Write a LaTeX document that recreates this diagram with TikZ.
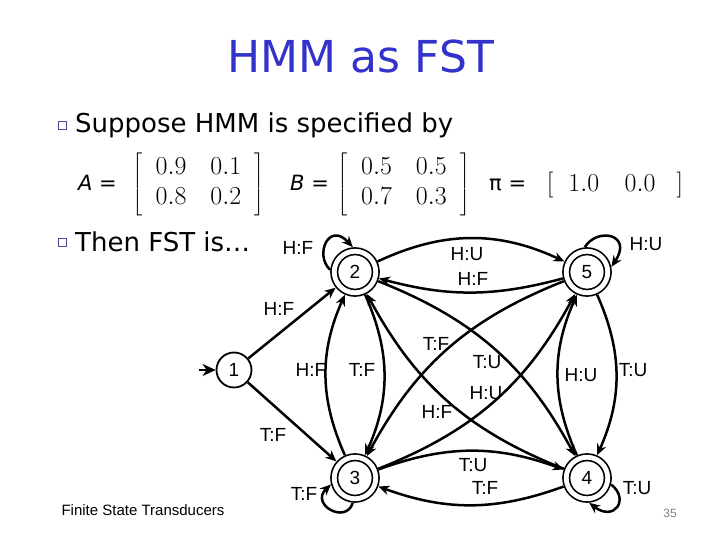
\documentclass[tikz,border=0pt]{standalone}
\usepackage[no-math]{fontspec}
\usepackage{graphicx}
\setmainfont{DejaVu Sans}
\newfontfamily\arialf{Liberation Sans}
\usetikzlibrary{arrows.meta,shadows}
\definecolor{titleblue}{HTML}{3333CC}
\definecolor{bulblue}{HTML}{4A4A9A}
\begin{document}
\begin{tikzpicture}[x=1pt,y=1pt,
  lbl/.style={font=\arialf\fontsize{19}{22}\selectfont, inner sep=0pt},
  st/.style={circle, draw, line width=1.8pt, minimum size=35pt, inner sep=0pt, fill=white, font=\arialf\fontsize{19}{22}\selectfont},
  acc/.style={circle, draw, line width=1.7pt, double=white, double distance=4.8pt, minimum size=41.5pt, inner sep=0pt, outer sep=4.2pt, font=\arialf\fontsize{19}{22}\selectfont},
  tr/.style={draw, line width=2.5pt, -{Stealth[length=11pt,width=9.5pt]}},
  bul/.style={rectangle, draw=bulblue, line width=0.8pt, fill=white, minimum size=8pt, inner sep=0pt,
     drop shadow={shadow xshift=1.3pt, shadow yshift=-1.3pt, fill=bulblue!80, opacity=1}},
  slide/.style={font=\fontsize{26}{31}\selectfont, inner sep=0pt, anchor=base west},
  eqlbl/.style={font=\fontsize{21}{25}\selectfont, inner sep=0pt, anchor=base west},
  mat/.style={inner sep=0pt, font=\fontsize{17.28}{20}\selectfont}
]
\useasboundingbox (0,0) rectangle (720,540);

% title
\node[font=\fontsize{44}{50}\selectfont, text=titleblue, inner sep=0pt] (title) at (361,483.5) {HMM as FST};

% first bullet and matrices
\node[bul] (b1) at (62,415) {};
\node[slide] (t1) at (75,407) {Suppose HMM is specified by};
\node[eqlbl] (eA) at (78,349) {\itshape A\upshape\ =};
\node[mat] (mA) at (198.5,356) {\scalebox{1.5}{$\left[\begin{array}{@{\hspace{9pt}}c@{\hspace{16pt}}c@{\hspace{9pt}}}0.9&0.1\\0.8&0.2\end{array}\right]$}};
\node[eqlbl] (eB) at (290,349) {\itshape B\upshape\ =};
\node[mat] (mB) at (404,356) {\scalebox{1.5}{$\left[\begin{array}{@{\hspace{9pt}}c@{\hspace{16pt}}c@{\hspace{9pt}}}0.5&0.5\\0.7&0.3\end{array}\right]$}};
\node[eqlbl] (ePi) at (489,349) {π =};
\node[mat] (mPi) at (615,355) {\scalebox{1.5}{$[\hspace{10pt}1.0\hspace{17pt}0.0\hspace{14pt}]$}};

% second bullet
\node[bul] (b2) at (62,298) {};
\node[slide] (t2) at (75,288) {Then FST is…};

% footer
\node[font=\arialf\fontsize{15}{17}\selectfont, inner sep=0pt] (foot) at (143,30) {Finite State Transducers};
\node[font=\arialf\fontsize{12}{14}\selectfont, text=gray, inner sep=0pt] (pg) at (670,27) {35};

% states
\node[st]  (n1) at (234,170) {1};
\node[acc] (n2) at (355,268) {2};
\node[acc] (n5) at (587,268) {5};
\node[acc] (n3) at (355,62) {3};
\node[acc] (n4) at (587,62) {4};

% start arrow
\coordinate (s0) at (199,170);
\draw[line width=1.5pt, -{Stealth[length=13pt,width=12pt,inset=4pt]}] (s0) -- (n1);

% transitions
\draw[tr] (n1) -- (n2);
\draw[tr] (n1) -- (n3);
\draw[tr] (n2) to[bend left=25] (n5);
\draw[tr] (n5) to[bend left=15] (n2);
\draw[tr] (n3) to[bend left=24] (n2);
\draw[tr] (n2) to[bend left=24] (n3);
\draw[tr] (n4) to[bend left=24] (n5);
\draw[tr] (n5) to[bend left=24] (n4);
\draw[tr] (n3) to[bend left=20] (n4);
\draw[tr] (n4) to[bend left=20] (n3);
\draw[tr] (n2) to[bend left=20] (n4);
\draw[tr] (n4) to[bend left=20] (n2);
\draw[tr] (n5) to[bend right=20] (n3);
\draw[tr] (n3) to[bend right=20] (n5);

% self loops
\draw[tr] (n2.175) .. controls +(-16,15) and +(-24,26) .. (n2.95);
\draw[tr] (n5.95) .. controls +(12,20) and +(22,33) .. (n5.12);
\draw[tr] (n3.265) .. controls +(-7,-22) and +(-21,-20) .. (n3.195);
\draw[tr] (n4.-15) .. controls +(19,-15) and +(25,-19) .. (n4.-85);

% labels
\node[lbl] (l12) at (279,231) {H:F};
\node[lbl] (l13) at (273,105) {T:F};
\node[lbl] (l22) at (298,292) {H:F};
\node[lbl] (l55) at (646,296) {H:U};
\node[lbl] (l33) at (304,46) {T:F};
\node[lbl] (l44) at (637,52) {T:U};
\node[lbl] (l25) at (467,286) {H:U};
\node[lbl] (l52) at (473,261) {H:F};
\node[lbl] (l32) at (311,170) {H:F};
\node[lbl] (l23) at (362,170) {T:F};
\node[lbl] (l53) at (436,196) {T:F};
\node[lbl] (l24) at (487,178) {T:U};
\node[lbl] (l35) at (486,147) {H:U};
\node[lbl] (l42) at (437,128) {H:F};
\node[lbl] (l45) at (581,165) {H:U};
\node[lbl] (l54) at (633,170) {T:U};
\node[lbl] (l34) at (473,75) {T:U};
\node[lbl] (l43) at (485,52) {T:F};
\end{tikzpicture}
\end{document}
